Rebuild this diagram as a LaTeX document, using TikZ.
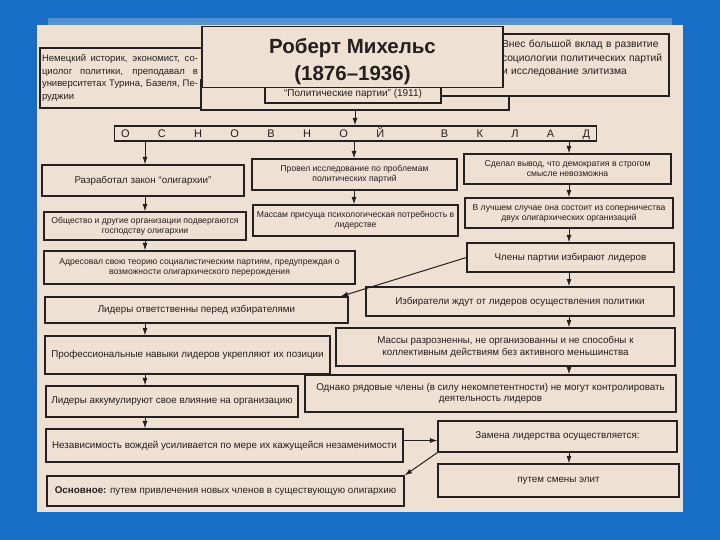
\documentclass[tikz,border=0pt]{standalone}
\usepackage{fontspec}
\setmainfont{Liberation Sans}
\usetikzlibrary{arrows.meta}
\definecolor{slideblue}{RGB}{24,110,198}
\definecolor{paper}{RGB}{238,224,210}
\definecolor{ink}{RGB}{38,31,31}

\begin{document}
\begin{tikzpicture}[
	x=1pt, y=-1pt,
	block/.style={
		rectangle, draw=ink, line width=1.2pt, fill=paper,
		text=ink, align=center, inner sep=2pt,
		font=\fontsize{9.8}{11.5}\selectfont
	},
	small/.style={block, font=\fontsize{8.6}{10}\selectfont},
	wh/.style 2 args={minimum width=#1pt, minimum height=#2pt},
	line/.style={draw=ink, line width=1pt, -{Latex[length=7.5pt,width=5pt]}},
	]
	\useasboundingbox (0,0) rectangle (720,540);
	\fill[slideblue] (0,0) rectangle (720,540);
	\fill[slideblue!75!white] (48,18) rectangle (672,25);
	\fill[paper] (37,25) rectangle (683,512);

	% header
	\node [block, wh={225}{60}, text width=221pt, align=left,
		font=\fontsize{9.5}{12.8}\selectfont] (bio) at (152.5,78) {\parbox{156pt}{%
		\spaceskip=.28em plus 1em\relax
		\makebox[156pt][s]{Немецкий историк, экономист, со-}\\
		\makebox[156pt][s]{циолог политики, преподавал в}\\
		\makebox[156pt][s]{университетах Турина, Базеля, Пе-}\\
		руджии}};
	\node [block, wh={308}{30}] (frame) at (355,95) {};
	\node [block, wh={228}{62}, text width=224pt, align=right,
		font=\fontsize{10.3}{13.5}\selectfont] (note) at (555,65) {\parbox[t][50pt][t]{165pt}{%
		Внес большой вклад в развитие\\
		социологии политических партий\\
		и исследование элитизма}};
	\node [block, wh={176}{18}, font=\fontsize{10}{12}\selectfont] (sub) at (353,94) {“Политические партии” (1911)};
	\node [block, wh={301}{58}, font=\fontsize{20.5}{27}\selectfont\bfseries] (title) at (352.5,57)
		{\parbox[c][52pt][b]{290pt}{\centering Роберт Михельс\\(1876–1936)}};

	\node [block, wh={482}{15}, inner sep=0pt, font=\fontsize{11}{12}\selectfont] (bar) at (355.5,133.5)
		{\makebox[469pt][s]{О\hfill С\hfill Н\hfill О\hfill В\hfill Н\hfill О\hfill Й\hfill\hfill В\hfill К\hfill Л\hfill А\hfill Д}};

	\coordinate (lcol) at (145,0);
	\coordinate (mcol) at (354,0);
	\coordinate (rcol) at (569,0);

	% three columns
	\node [block, wh={202}{31}] (law) at (143,180.5) {Разработал закон “олигархии”};
	\node [small, wh={205}{31}] (study) at (354.5,174.5) {Провел исследование по проблемам\\политических партий};
	\node [small, wh={207}{30}] (demo) at (567.5,169) {Сделал вывод, что демократия в строгом\\смысле невозможна};

	\node [small, wh={202}{28}] (society) at (145,226) {Общество и другие организации подвергаются\\господству олигархии};
	\node [small, wh={205}{31}] (masses) at (355.5,220.5) {Массам присуща психологическая потребность в\\лидерстве};
	\node [small, wh={208}{30}] (rival) at (569,213) {В лучшем случае она состоит из соперничества\\двух олигархических организаций};

	\node [small, wh={311}{33}] (address) at (199.5,267.5) {Адресовал свою теорию социалистическим партиям, предупреждая о\\возможности олигархического перерождения};
	\node [block, wh={207}{29}] (elect) at (570.5,257.5) {Члены партии избирают лидеров};

	% lower part
	\node [block, wh={303}{26}] (resp) at (196.5,310) {Лидеры ответственны перед избирателями};
	\node [block, wh={308}{29}] (expect) at (520,301.5) {Избиратели ждут от лидеров осуществления политики};

	\node [block, wh={285}{38}] (skills) at (187.5,355) {Профессиональные навыки лидеров укрепляют их позиции};
	\node [block, wh={339}{38}] (scatter) at (505.5,347) {Массы разрозненны, не организованны и не способны к\\коллективным действиям без активного меньшинства};

	\node [block, wh={252}{31}] (accum) at (172,401.5) {Лидеры аккумулируют свое влияние на организацию};
	\node [block, wh={371}{37}] (notctrl) at (490.5,393.5) {Однако рядовые члены (в силу некомпетентности) не могут контролировать\\деятельность лидеров};

	\node [block, wh={357}{33}] (indep) at (224.5,445.5) {Независимость вождей усиливается по мере их кажущейся незаменимости};
	\node [block, wh={239}{31}] (replace) at (557.5,436.5) {Замена лидерства осуществляется:};

	\node [block, wh={357}{30}] (main) at (225.5,491) {\textbf{Основное:} путем привлечения новых членов в существующую олигархию};
	\node [block, wh={241}{33}] (elites) at (558.5,480.5) {путем смены элит};

	\path [line] (frame.south) -- (frame.south |- bar.north);
	\path [line] (bar.south -| lcol) -- (law.north -| lcol);
	\path [line] (bar.south -| mcol) -- (study.north -| mcol);
	\path [line] (bar.south -| rcol) -- (demo.north -| rcol);

	\path [line] (law.south -| lcol) -- (society.north -| lcol);
	\path [line] (society.south -| lcol) -- (address.north -| lcol);
	\path [line] (study.south -| mcol) -- (masses.north -| mcol);
	\path [line] (demo.south -| rcol) -- (rival.north -| rcol);
	\path [line] (rival.south -| rcol) -- (elect.north -| rcol);
	\path [line] (elect.south -| rcol) -- (expect.north -| rcol);
	\path [line] (expect.south -| rcol) -- (scatter.north -| rcol);
	\path [line] (scatter.south -| rcol) -- (notctrl.north -| rcol);

	\path [line] (elect.west) -- ([xshift=-8pt]resp.north east);
	\path [line] (resp.south -| lcol) -- (skills.north -| lcol);
	\path [line] (skills.south -| lcol) -- (accum.north -| lcol);
	\path [line] (accum.south -| lcol) -- (indep.north -| lcol);

	\path [line] ([yshift=5pt]indep.east) -- ([yshift=5pt]indep.east -| replace.west);
	\path [line] (replace.south -| rcol) -- (elites.north -| rcol);
	\path [line] (replace.south west) -- (main.north east);
\end{tikzpicture}
\end{document}
